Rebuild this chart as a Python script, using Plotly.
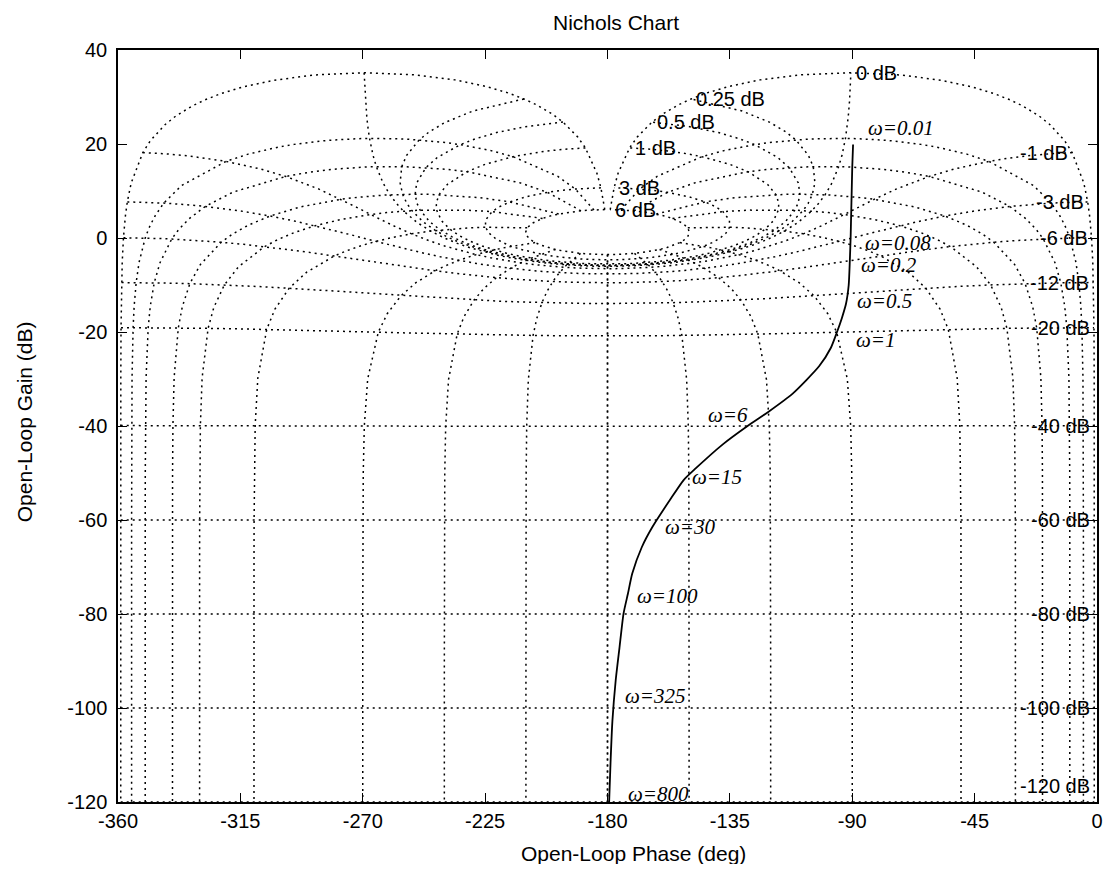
import numpy as np
import plotly.graph_objects as go

# ---------------- texts / ticks ----------------
title_text = "Nichols Chart"
x_title = "Open-Loop Phase (deg)"
y_title = "Open-Loop Gain (dB)"
x_ticks = [-360, -315, -270, -225, -180, -135, -90, -45, 0]
y_ticks = [40, 20, 0, -20, -40, -60, -80, -100, -120]

# ---------------- Nichols grid levels ----------------
# closed-loop magnitude contours (dB)
cl_gain_db = [6, 3, 1, 0.5, 0.25, 0, -1, -3, -6, -12, -20, -40, -60, -80, -100, -120]
# closed-loop phase contours (deg)
cl_phase_deg = [1, 5, 10, 20, 30, 50, 90, 120, 150, 180]
# sample levels along the contours
phase_line_samples_db = [6, 3, 2, 1, 0.75, 0.5, 0.4, 0.3, 0.25, 0.2, 0.15, 0.1, 0.05, 0,
                         -0.05, -0.1, -0.15, -0.2, -0.25, -0.3, -0.4, -0.5, -0.75, -1,
                         -2, -3, -4, -5, -6, -9, -12, -16, -20, -30, -40, -50, -60, -70,
                         -80, -90, -100, -120, -140, -160, -180, -200]
gain_line_samples_deg = [1, 2, 3, 4, 5, 7.5, 10, 15, 20, 25, 30, 40, 50, 60, 70, 80, 90,
                         100, 110, 120, 130, 140, 150, 160, 170, 180]

# ---------------- open-loop response ----------------
ol_phase = [-89.7, -90.0, -90.2, -90.4, -90.6, -90.9, -91.3, -92.3, -93.8, -95.6, -97.9,
            -102.2, -111.9, -120.9, -128.5, -137.6, -148.1, -152.0, -157.0, -163.5,
            -167.4, -170.9, -172.5, -174.1, -175.6, -177.0, -178.2, -178.9, -179.4]
ol_gain = [19.9, 15, 10, 5, 0, -5, -10, -14, -17, -20, -23.4,
           -27.3, -33.1, -37.0, -40.0, -43.9, -49.3, -51.5, -55.7, -61.5,
           -65.8, -71.4, -75.7, -79.9, -87.2, -94.2, -102.8, -111.9, -120]

# frequency markers
w_text = ["ω=0.01", "ω=0.08", "ω=0.2", "ω=0.5", "ω=1", "ω=6", "ω=15", "ω=30",
          "ω=100", "ω=325", "ω=800"]
w_phase = [-85.0, -85.9, -87.7, -89.0, -89.5, -143.9, -149.5, -159.5, -169.8, -174.4, -173.3]
w_gain = [23.5, -1.0, -5.7, -13.4, -21.7, -37.6, -50.8, -61.5, -76.1, -97.4, -118.3]


def closed_to_open(g_db, p_deg):
    z = 10 ** (np.asarray(g_db, float) / 20) * np.exp(1j * np.deg2rad(np.asarray(p_deg, float)))
    h = z / (1 - z)
    gh = 20 * np.log10(np.abs(h))
    ph = np.mod(np.degrees(np.angle(h)) + 360, 360)
    return gh, ph


grid_x, grid_y = [], []
# isophase lines
samp = np.array(phase_line_samples_db, float)
for p in cl_phase_deg:
    gh, ph = closed_to_open(samp, np.full(samp.shape, p))
    for xs in (ph - 360, -ph):
        grid_x += list(xs) + [None]
        grid_y += list(gh) + [None]

# isogain lines
ps = np.array(gain_line_samples_deg, float)
gain_labels = []
for g in cl_gain_db:
    gh, ph = closed_to_open(np.full(ps.shape, g), ps)
    xs = list(ph - 360) + list((-ph)[::-1])
    ys = list(gh) + list(gh[::-1])
    grid_x += xs + [None]
    grid_y += ys + [None]
    gain_labels.append((g, xs[-1], ys[-1]))

fig = go.Figure()
fig.add_trace(go.Scatter(x=grid_x, y=grid_y, mode="lines",
                         line=dict(color="black", width=1.5, dash="2px,4px"),
                         hoverinfo="skip", showlegend=False))
fig.add_trace(go.Scatter(x=ol_phase, y=ol_gain, mode="lines",
                         line=dict(color="black", width=1.8, shape="spline", smoothing=0.6),
                         showlegend=False))

annotations = []
lab_font = dict(family="Liberation Sans, Arial, sans-serif", size=20, color="black")
for g, x, y in gain_labels:
    txt = f"{g:g} dB"
    if g >= 0:
        annotations.append(dict(x=x, y=y, xref="x", yref="y", text=txt, showarrow=False,
                                xanchor="left", yanchor="middle", xshift=3, font=lab_font))
    else:
        annotations.append(dict(x=x, y=max(y, -116.5), xref="x", yref="y", text=txt,
                                showarrow=False, xanchor="right", yanchor="middle",
                                xshift=-2, font=lab_font))

w_font = dict(family="Liberation Serif, Times New Roman, serif", size=21, color="black",
              style="italic")
for t, x, y in zip(w_text, w_phase, w_gain):
    annotations.append(dict(x=x, y=y, xref="x", yref="y", text=t, showarrow=False,
                            xanchor="left", yanchor="middle", font=w_font))

title_font = dict(family="Liberation Sans, Arial, sans-serif", size=21, color="black")
annotations.append(dict(x=0.509, y=1.037, xref="paper", yref="paper", text=title_text,
                        showarrow=False, xanchor="center", yanchor="middle", font=title_font))
annotations.append(dict(x=0.527, y=-0.069, xref="paper", yref="paper", text=x_title,
                        showarrow=False, xanchor="center", yanchor="middle", font=title_font))
annotations.append(dict(x=-0.096, y=0.505, xref="paper", yref="paper", text=y_title,
                        showarrow=False, xanchor="center", yanchor="middle", textangle=-90,
                        font=title_font))

axis_common = dict(showgrid=False, zeroline=False, showline=True, linecolor="black",
                   linewidth=1.5, mirror="ticks", ticks="inside", ticklen=9, tickwidth=1.3,
                   tickcolor="black", automargin=False, ticklabeloverflow="allow",
                   tickfont=dict(family="Liberation Sans, Arial, sans-serif", size=20,
                                 color="black"))
fig.update_xaxes(range=[-360, 0], tickvals=x_ticks, ticktext=[str(v) for v in x_ticks],
                 ticklabelstandoff=0, **axis_common)
fig.update_yaxes(range=[-120, 40], tickvals=y_ticks, ticktext=[str(v) for v in y_ticks],
                 ticklabelstandoff=5, **axis_common)

# page body has an 8px margin: the figure is sized/offset so the plot box lands where
# the reference has it without overflowing the window
fig.update_layout(width=1095, height=856, margin=dict(l=110, r=6, t=42, b=62),
                  paper_bgcolor="white", plot_bgcolor="white", annotations=annotations,
                  showlegend=False)

fig.write_html("out.html")
